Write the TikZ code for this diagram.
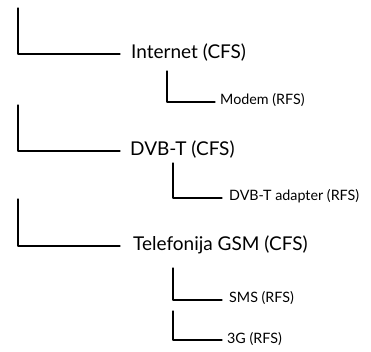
\documentclass[tikz,border=0pt]{standalone}
\usepackage{fontspec}
\setmainfont{Lato}
\begin{document}
\begin{tikzpicture}[x=1pt,y=-1pt,
  cfs/.style={anchor=west,inner sep=0pt,font=\fontsize{19}{22}\selectfont},
  rfs/.style={anchor=west,inner sep=0pt,font=\fontsize{14.3}{17}\selectfont},
  branch/.style={draw=black,line width=1.3pt,line cap=round,line join=round}]
\useasboundingbox (0,0) rectangle (371,351);

% top-level services
\node[cfs] (inet) at (131,53) {Internet (CFS)};
\node[cfs] (dvbt) at (130,150) {DVB-T (CFS)};
\node[cfs] (gsm)  at (133,245) {Telefonija GSM (CFS)};

% resource-facing services
\node[rfs] (modem)   at (220,100) {Modem (RFS)};
\node[rfs] (adapter) at (229,196) {DVB-T adapter (RFS)};
\node[rfs] (sms)     at (229,298) {SMS (RFS)};
\node[rfs] (g3)      at (227,339) {3G (RFS)};

% free upper ends of the branches
\coordinate (t1) at (18,8);
\coordinate (t2) at (18,105);
\coordinate (t3) at (18,199);
\coordinate (s1) at (167,71);
\coordinate (s2) at (173,163);
\coordinate (s3) at (173,268);
\coordinate (s4) at (173,311);

\draw[branch] (t1) |- ([xshift=-11pt,yshift=-1pt]inet.west);
\draw[branch] (t2) |- ([xshift=-10pt,yshift=-1pt]dvbt.west);
\draw[branch] (t3) |- ([xshift=-13pt,yshift=-1pt]gsm.west);
\draw[branch] (s1) |- ([xshift=-5pt,yshift=-2pt]modem.west);
\draw[branch] (s2) |- ([xshift=-7pt,yshift=-2pt]adapter.west);
\draw[branch] (s3) |- ([xshift=-7pt,yshift=-2pt]sms.west);
\draw[branch] (s4) |- ([xshift=-5pt,yshift=-1pt]g3.west);
\end{tikzpicture}
\end{document}
